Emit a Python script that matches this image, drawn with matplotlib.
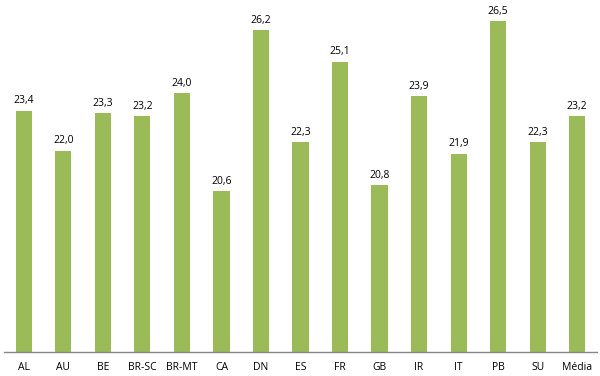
import matplotlib
matplotlib.use("Agg")
import matplotlib.pyplot as plt
import numpy as np

categories = ["AL", "AU", "BE", "BR-SC", "BR-MT", "CA", "DN", "ES", "FR",
              "GB", "IR", "IT", "PB", "SU", "Média"]
values = [23.4, 22.0, 23.3, 23.2, 24.0, 20.6, 26.2, 22.3, 25.1,
          20.8, 23.9, 21.9, 26.5, 22.3, 23.2]

plt.rcParams['font.family'] = ['Open Sans', 'DejaVu Sans']

fig = plt.figure(figsize=(6, 3.76), dpi=100)
ax = fig.add_axes([4/600, 24/376, 593/600, 345/376])

x = np.arange(len(categories))
bars = ax.bar(x, values, width=0.41, color="#9BBB59", bottom=0)
ax.set_ylim(15, 27)
ax.set_xlim(-0.5, len(categories) - 0.5)

for xi, v in zip(x, values):
    ax.text(xi, v + 0.15, f"{v:.1f}".replace(".", ","), ha="center",
            va="bottom", fontsize=7.5, color="#000000")

ax.set_xticks(x)
ax.set_xticklabels(categories, fontsize=7.5, color="#000000")
ax.tick_params(axis="x", length=0, pad=7)
ax.set_yticks([])
for s in ["top", "right", "left"]:
    ax.spines[s].set_visible(False)
ax.spines["bottom"].set_color("#868686")
ax.spines["bottom"].set_linewidth(1)

fig.savefig("out.png", dpi=100)
